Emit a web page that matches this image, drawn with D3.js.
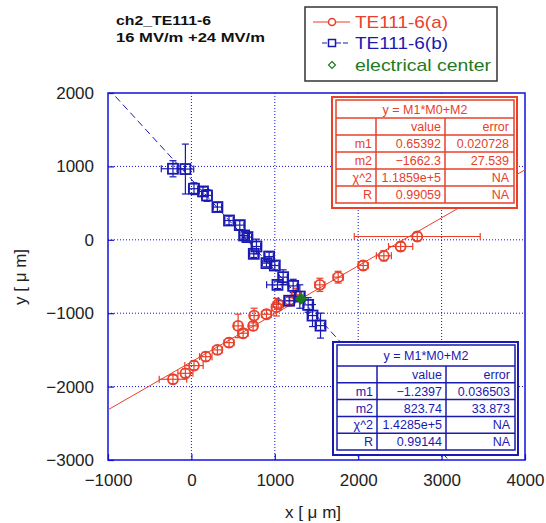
<!DOCTYPE html>
<html><head><meta charset="utf-8">
<script src="https://cdn.jsdelivr.net/npm/d3@7"></script>
<style>body{margin:0;background:#fff}svg{display:block}text{font-family:"Liberation Sans",Arial,sans-serif}</style>
</head><body><svg id="c" width="546" height="523"></svg>
<script>
// ---- data ----
const titleLines = ["ch2_TE111-6", "16 MV/m +24 MV/m"];
const xTicks = [-1000, 0, 1000, 2000, 3000, 4000];
const yTicks = [-3000, -2000, -1000, 0, 1000, 2000];
const seriesNames = ["TE111-6(a)", "TE111-6(b)", "electrical center"];

const aX    = [-221, -72, 31, 172, 312, 451, 560, 620, 740, 752, 900, 1020, 1040, 1180, 1260, 1540, 1760, 2060, 2308, 2509, 2708];
const aY    = [-1900, -1819, -1714, -1592, -1500, -1401, -1173, -1273, -1173, -1032, -1014, -918, -880, -830, -750, -614, -509, -350, -218, -91, 45];
const aXerr = [165, 90, 110, 75, 60, 60, 50, 60, 50, 50, 60, 60, 60, 60, 60, 60, 60, 60, 90, 145, 755];
const aYerr = [60, 60, 60, 60, 60, 60, 160, 60, 60, 100, 60, 120, 60, 60, 90, 90, 80, 60, 70, 60, 60];

const bX    = [-221, -72, 31, 139, 187, 312, 451, 580, 632, 672, 780, 748, 932, 900, 1000, 1100, 1032, 1220, 1172, 1300, 1400, 1452, 1548];
const bY    = [968, 964, 696, 659, 604, 446, 263, 200, 59, 37, -91, -191, -228, -318, -350, -509, -614, -628, -830, -773, -887, -1032, -1169];
const bXerr = [140, 100, 65, 60, 60, 50, 50, 50, 50, 50, 50, 50, 50, 50, 50, 50, 130, 50, 130, 50, 50, 50, 50];
const bYerr = [110, 340, 80, 60, 80, 60, 60, 60, 50, 50, 100, 50, 60, 50, 60, 100, 50, 90, 50, 160, 100, 150, 170];

const fitA = {m1: 0.65392, m2: -1662.3};
const fitB = {m1: -1.2397, m2: 823.74};
const tableA = [["m1","0.65392","0.020728"],["m2","\u22121662.3","27.539"],["\u03c7^2","1.1859e+5","NA"],["R","0.99059","NA"]];
const tableB = [["m1","\u22121.2397","0.036503"],["m2","823.74","33.873"],["\u03c7^2","1.4285e+5","NA"],["R","0.99144","NA"]];
const tableTitle = "y = M1*M0+M2";
const centerX = [1313], centerY = [-804];

// ---- drawing ----
const RED = "#e8402a", BLUE = "#1a1ab0", AX = "#1010e0", GREEN = "#1e7a1e";
const svg = d3.select("#c");
const L = 108, R = 525, T = 93, B = 460;
const x = d3.scaleLinear().domain([-1000, 4000]).range([L, R]);
const y = d3.scaleLinear().domain([-3000, 2000]).range([B, T]);

// grid
const g = svg.append("g");
g.selectAll(".gx").data(xTicks.slice(1, -1)).join("line")
  .attr("x1", d => x(d)).attr("x2", d => x(d)).attr("y1", T).attr("y2", B)
  .attr("stroke", AX).attr("stroke-width", 1).attr("stroke-dasharray", "1,2");
g.selectAll(".gy").data(yTicks.slice(1, -1)).join("line")
  .attr("y1", d => y(d)).attr("y2", d => y(d)).attr("x1", L).attr("x2", R)
  .attr("stroke", AX).attr("stroke-width", 1).attr("stroke-dasharray", "1,2");

// axes with inward ticks
const xa = svg.append("g").attr("transform", `translate(0,${B})`)
  .call(d3.axisBottom(x).tickValues(xTicks).tickSize(-6).tickPadding(12).tickFormat(d => d < 0 ? "\u2212" + Math.abs(d) : d));
const ya = svg.append("g").attr("transform", `translate(${L},0)`)
  .call(d3.axisLeft(y).tickValues(yTicks).tickSize(-6).tickPadding(14).tickFormat(d => d < 0 ? "\u2212" + Math.abs(d) : d));
[xa, ya].forEach(a => {
  a.select(".domain").remove();
  a.selectAll("line").attr("stroke", AX).attr("stroke-width", 1.2);
  a.selectAll("text").attr("font-size", 17).attr("fill", "#222");
});
xa.selectAll("text").attr("dy", "0.71em").attr("y", 14);
svg.append("rect").attr("x", L).attr("y", T).attr("width", R - L).attr("height", B - T)
  .attr("fill", "none").attr("stroke", AX).attr("stroke-width", 1.5);

// axis titles
svg.append("text").attr("x", 313).attr("y", 518).attr("text-anchor", "middle")
  .attr("font-size", 17).attr("fill", "#222").text("x [ \u03bc m]");
svg.append("text").attr("transform", "translate(26,277) rotate(-90)").attr("text-anchor", "middle")
  .attr("font-size", 17).attr("fill", "#222").text("y [ \u03bc m]");

// plot clip
svg.append("clipPath").attr("id", "clip").append("rect")
  .attr("x", L).attr("y", T).attr("width", R - L).attr("height", B - T);
const P = svg.append("g").attr("clip-path", "url(#clip)");

// fit lines
const fx = [-1000, 4000];
P.append("line").attr("x1", x(fx[0])).attr("y1", y(fitA.m1 * fx[0] + fitA.m2))
  .attr("x2", x(fx[1])).attr("y2", y(fitA.m1 * fx[1] + fitA.m2))
  .attr("stroke", RED).attr("stroke-width", 1);
P.append("line").attr("x1", x(fx[0])).attr("y1", y(fitB.m1 * fx[0] + fitB.m2))
  .attr("x2", x(fx[1])).attr("y2", y(fitB.m1 * fx[1] + fitB.m2))
  .attr("stroke", BLUE).attr("stroke-width", 1).attr("stroke-dasharray", "7,4");

function errBars(X, Y, XE, YE, col) {
  const eg = P.append("g").attr("stroke", col).attr("stroke-width", 1.2).attr("fill", "none");
  X.forEach((xv, i) => {
    const cx = x(xv), cy = y(Y[i]);
    const x0 = x(xv - XE[i]), x1 = x(xv + XE[i]), y0 = y(Y[i] - YE[i]), y1 = y(Y[i] + YE[i]);
    eg.append("line").attr("x1", x0).attr("x2", x1).attr("y1", cy).attr("y2", cy);
    eg.append("line").attr("x1", cx).attr("x2", cx).attr("y1", y0).attr("y2", y1);
    eg.append("line").attr("x1", x0).attr("x2", x0).attr("y1", cy - 3.5).attr("y2", cy + 3.5);
    eg.append("line").attr("x1", x1).attr("x2", x1).attr("y1", cy - 3.5).attr("y2", cy + 3.5);
    eg.append("line").attr("x1", cx - 3.5).attr("x2", cx + 3.5).attr("y1", y0).attr("y2", y0);
    eg.append("line").attr("x1", cx - 3.5).attr("x2", cx + 3.5).attr("y1", y1).attr("y2", y1);
  });
}
errBars(aX, aY, aXerr, aYerr, RED);
errBars(bX, bY, bXerr, bYerr, BLUE);

P.append("g").selectAll("circle").data(aX).join("circle")
  .attr("cx", d => x(d)).attr("cy", (d, i) => y(aY[i])).attr("r", 5)
  .attr("fill", "none").attr("stroke", RED).attr("stroke-width", 1.8);
P.append("g").selectAll("rect").data(bX).join("rect")
  .attr("x", d => x(d) - 5).attr("y", (d, i) => y(bY[i]) - 5).attr("width", 10).attr("height", 10)
  .attr("fill", "none").attr("stroke", BLUE).attr("stroke-width", 1.8);
P.append("g").selectAll("path").data(centerX).join("path")
  .attr("d", (d, i) => `M${x(d)},${y(centerY[i]) - 5}l5,5l-5,5l-5,-5z`)
  .attr("fill", GREEN).attr("stroke", GREEN).attr("stroke-width", 1.5);

// fit tables
function table(x0, y0, titleH, rowH, rows, col) {
  const W = 185, innerX = x0 + 4, innerW = W - 7;
  const H = 3 + titleH + rowH * (rows.length + 1) + 5;
  const tg = svg.append("g");
  tg.append("rect").attr("x", x0).attr("y", y0).attr("width", W).attr("height", H)
    .attr("fill", "#fff").attr("stroke", col).attr("stroke-width", 2);
  const iy = y0 + 3;
  const ih = titleH + rowH * (rows.length + 1);
  tg.append("rect").attr("x", innerX).attr("y", iy).attr("width", innerW).attr("height", ih)
    .attr("fill", "none").attr("stroke", col).attr("stroke-width", 1.5);
  const c1 = x0 + 44, c2 = x0 + 113, right = innerX + innerW;
  for (let k = 0; k <= rows.length; k++) {
    const yy = iy + titleH + rowH * k;
    tg.append("line").attr("x1", innerX).attr("x2", right).attr("y1", yy).attr("y2", yy)
      .attr("stroke", col).attr("stroke-width", 1.5);
  }
  [c1, c2].forEach(cx => tg.append("line").attr("x1", cx).attr("x2", cx)
    .attr("y1", iy + titleH).attr("y2", iy + ih).attr("stroke", col).attr("stroke-width", 1.5));
  tg.append("text").attr("x", (innerX + right) / 2).attr("y", iy + titleH / 2 + 4.5)
    .attr("text-anchor", "middle").attr("font-size", 12.5).attr("fill", col).text(tableTitle);
  const ty = k => iy + titleH + rowH * k + rowH / 2 + 4.5;
  const hdr = ["", "value", "error"];
  const all = [hdr].concat(rows);
  all.forEach((r, k) => {
    [c1 - 4, c2 - 4, right - 5].forEach((ax, j) => {
      tg.append("text").attr("x", ax).attr("y", ty(k)).attr("text-anchor", "end")
        .attr("font-size", 12.5).attr("fill", col).text(r[j]);
    });
  });
}
table(332, 97, 18, 17, tableA, RED);
table(333, 342, 21, 16.8, tableB, BLUE);

// title
svg.append("g").selectAll("text").data(titleLines).join("text")
  .attr("x", 116).attr("y", (d, i) => 25 + i * 16.5)
  .attr("font-size", 13).attr("font-weight", "bold").attr("fill", "#111")
  .attr("textLength", (d, i) => i === 0 ? 95 : 149).attr("lengthAdjust", "spacingAndGlyphs")
  .text(d => d);

// legend
const lg = svg.append("g");
lg.append("rect").attr("x", 305).attr("y", 7).attr("width", 192).attr("height", 74)
  .attr("fill", "#fff").attr("stroke", "#333").attr("stroke-width", 1.5);
const ly = [22, 43, 65], lcols = [RED, BLUE, GREEN];
lg.append("line").attr("x1", 313).attr("x2", 350).attr("y1", ly[0]).attr("y2", ly[0]).attr("stroke", RED).attr("stroke-width", 1.2);
lg.append("circle").attr("cx", 332).attr("cy", ly[0]).attr("r", 3.5).attr("fill", "#fff").attr("stroke", RED).attr("stroke-width", 1.5);
lg.append("line").attr("x1", 322).attr("x2", 348).attr("y1", ly[1]).attr("y2", ly[1]).attr("stroke", BLUE).attr("stroke-width", 1.2).attr("stroke-dasharray", "5,2");
lg.append("rect").attr("x", 328.5).attr("y", ly[1] - 3.5).attr("width", 7).attr("height", 7).attr("fill", "#fff").attr("stroke", BLUE).attr("stroke-width", 1.5);
lg.append("path").attr("d", `M332,${ly[2] - 3.5}l3.5,3.5l-3.5,3.5l-3.5,-3.5z`).attr("fill", "none").attr("stroke", GREEN).attr("stroke-width", 1.2);
lg.selectAll("text").data(seriesNames).join("text")
  .attr("x", 355).attr("y", (d, i) => ly[i] + 6)
  .attr("font-size", 17).attr("fill", (d, i) => lcols[i])
  .attr("textLength", (d, i) => i === 2 ? 136 : 93).attr("lengthAdjust", "spacingAndGlyphs")
  .text(d => d);
</script></body></html>
